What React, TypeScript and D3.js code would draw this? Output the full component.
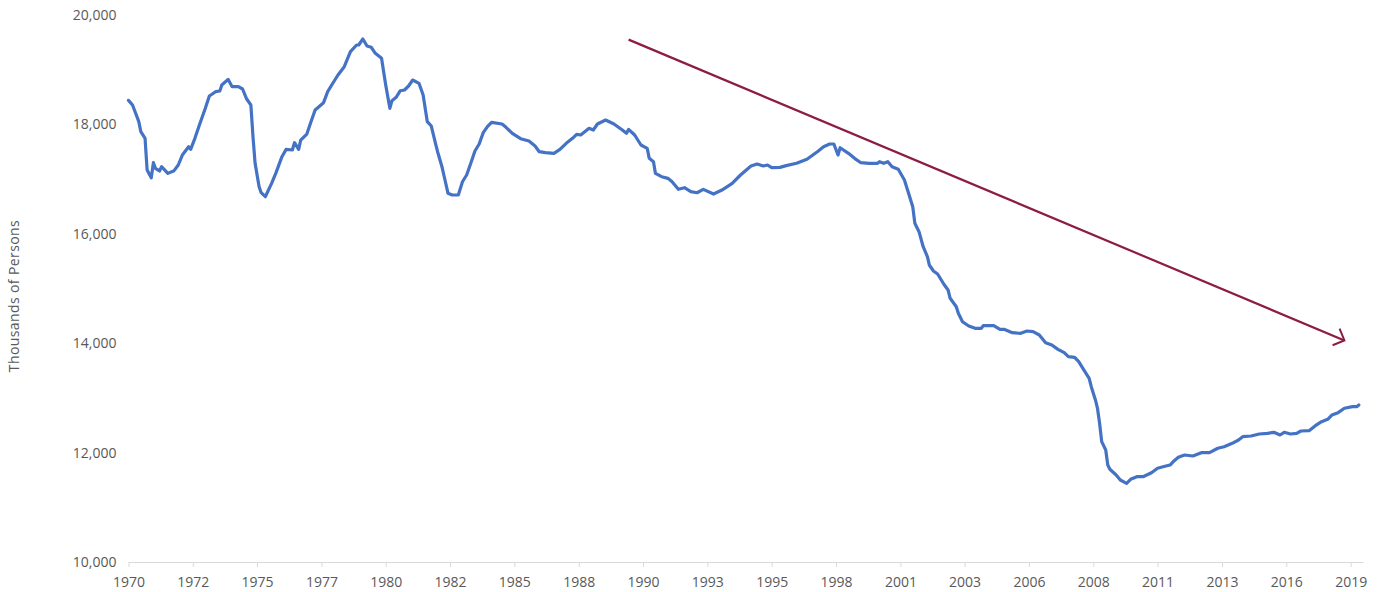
import React, { Component } from 'react';
import * as d3 from 'd3';

// manufacturing employment, thousands of persons
const months = [
  '1970-01', '1970-03', '1970-06', '1970-07', '1970-09', '1970-10', '1970-12', '1971-01', '1971-02', '1971-04',
  '1971-05', '1971-08', '1971-11', '1972-01', '1972-03', '1972-06', '1972-07', '1972-09', '1972-11', '1973-02',
  '1973-04', '1973-07', '1973-09', '1973-10', '1974-01', '1974-03', '1974-06', '1974-08', '1974-10', '1974-12',
  '1975-01', '1975-02', '1975-04', '1975-05', '1975-07', '1975-10', '1975-12', '1976-03', '1976-05', '1976-08',
  '1976-09', '1976-11', '1976-12', '1977-03', '1977-05', '1977-07', '1977-11', '1978-01', '1978-03', '1978-06',
  '1978-09', '1978-12', '1979-03', '1979-04', '1979-06', '1979-08', '1979-10', '1979-12', '1980-03', '1980-05',
  '1980-07', '1980-08', '1980-10', '1980-12', '1981-02', '1981-04', '1981-06', '1981-09', '1981-11', '1982-01',
  '1982-03', '1982-05', '1982-06', '1982-08', '1982-09', '1982-11', '1983-01', '1983-04', '1983-06', '1983-08',
  '1983-10', '1983-12', '1984-02', '1984-04', '1984-06', '1984-08', '1985-01', '1985-03', '1985-06', '1985-10',
  '1986-02', '1986-05', '1986-07', '1986-10', '1987-02', '1987-05', '1987-08', '1987-11', '1988-01', '1988-03',
  '1988-07', '1988-09', '1988-11', '1989-03', '1989-07', '1989-11', '1990-01', '1990-02', '1990-05', '1990-08',
  '1990-11', '1990-12', '1991-02', '1991-03', '1991-06', '1991-09', '1991-11', '1992-02', '1992-05', '1992-08',
  '1992-11', '1993-02', '1993-07', '1993-11', '1994-04', '1994-08', '1995-01', '1995-04', '1995-07', '1995-09',
  '1995-11', '1996-03', '1996-06', '1996-11', '1997-04', '1997-09', '1997-12', '1998-03', '1998-05', '1998-07',
  '1998-08', '1998-12', '1999-03', '1999-06', '1999-10', '2000-02', '2000-03', '2000-05', '2000-07', '2000-09',
  '2000-12', '2001-03', '2001-05', '2001-07', '2001-08', '2001-10', '2001-12', '2002-02', '2002-03', '2002-05',
  '2002-07', '2002-10', '2002-12', '2003-01', '2003-04', '2003-05', '2003-07', '2003-10', '2004-01', '2004-04',
  '2004-05', '2004-10', '2005-01', '2005-03', '2005-07', '2005-11', '2006-02', '2006-05', '2006-08', '2006-11',
  '2007-02', '2007-05', '2007-08', '2007-10', '2008-01', '2008-03', '2008-05', '2008-08', '2008-09', '2008-11',
  '2008-12', '2009-01', '2009-02', '2009-04', '2009-05', '2009-06', '2009-09', '2009-11', '2010-02', '2010-04',
  '2010-07', '2010-10', '2011-02', '2011-05', '2011-09', '2011-11', '2012-01', '2012-03', '2012-06', '2012-10',
  '2013-02', '2013-06', '2013-10', '2014-01', '2014-05', '2014-08', '2014-10', '2015-02', '2015-06', '2015-10',
  '2016-01', '2016-04', '2016-06', '2016-09', '2016-12', '2017-02', '2017-06', '2017-09', '2017-12', '2018-03',
  '2018-05', '2018-08', '2018-11', '2019-03', '2019-05', '2019-06'
]

const employment = [
  18440, 18355, 18050, 17866, 17745, 17166, 17025, 17300, 17197, 17148,
  17227, 17105, 17154, 17258, 17440, 17592, 17544, 17745, 17970, 18294,
  18519, 18598, 18610, 18720, 18824, 18690, 18690, 18647, 18464, 18355,
  17775, 17289, 16861, 16751, 16678, 16923, 17105, 17410, 17544, 17532,
  17666, 17544, 17714, 17824, 18050, 18264, 18397, 18598, 18720, 18903,
  19055, 19330, 19452, 19452, 19561, 19433, 19410, 19300, 19208, 18720,
  18294, 18434, 18495, 18616, 18629, 18702, 18811, 18751, 18537, 18050,
  17970, 17654, 17501, 17240, 17075, 16740, 16709, 16709, 16952, 17075,
  17289, 17514, 17642, 17849, 17958, 18038, 18007, 17946, 17836, 17739,
  17696, 17605, 17501, 17483, 17471, 17544, 17654, 17745, 17818, 17806,
  17928, 17897, 18007, 18080, 18007, 17897, 17836, 17909, 17806, 17623,
  17562, 17380, 17318, 17105, 17044, 17014, 16952, 16813, 16843, 16770,
  16751, 16813, 16727, 16800, 16923, 17075, 17240, 17276, 17240, 17258,
  17209, 17215, 17246, 17289, 17362, 17501, 17592, 17642, 17642, 17440,
  17574, 17471, 17380, 17300, 17289, 17289, 17318, 17289, 17318, 17227,
  17179, 16984, 16740, 16496, 16192, 16039, 15764, 15582, 15430, 15320,
  15265, 15077, 14973, 14821, 14667, 14546, 14393, 14314, 14272, 14272,
  14320, 14320, 14254, 14254, 14192, 14180, 14223, 14211, 14150, 14010,
  13967, 13888, 13827, 13754, 13742, 13662, 13541, 13358, 13205, 12962,
  12810, 12536, 12200, 12048, 11773, 11695, 11590, 11499, 11438, 11511,
  11559, 11559, 11632, 11713, 11755, 11773, 11852, 11914, 11956, 11938,
  11998, 11998, 12079, 12108, 12170, 12230, 12291, 12303, 12340, 12352,
  12371, 12322, 12371, 12340, 12352, 12395, 12400, 12492, 12565, 12608,
  12687, 12730, 12810, 12840, 12840, 12870
]

// excel put a label every 31 months, starting Jan 1970
const xTickLabels = ['1970', '1972', '1975', '1977', '1980', '1982', '1985', '1988', '1990', '1993',
  '1995', '1998', '2001', '2003', '2006', '2008', '2011', '2013', '2016', '2019']

const yTicks = [10000, 12000, 14000, 16000, 18000, 20000]

// hand drawn trend arrow: start and end (month, value)
const arrowMonths = ['1990-02', '2018-11']
const arrowValues = [19550, 14050]

const parseMonth = d3.timeParse('%Y-%m')

class App extends Component {
  svgRef = React.createRef()

  componentDidMount() {
    this.renderChart()
  }

  renderChart = () => {
    const svg = d3.select(this.svgRef.current)
    svg.selectAll('*').remove()

    const font = "'Open Sans', sans-serif"
    const textColor = '#595959'

    const data = months.map((m, i) => ({ date: parseMonth(m), value: employment[i] }))

    const xScale = d3.scaleTime()
      .domain([parseMonth('1970-01'), parseMonth('2019-08')])
      .range([128.5, 1363])

    const yScale = d3.scaleLinear()
      .domain([10000, 20000])
      .range([562, 15])

    const tickDates = xTickLabels.map((_, i) => d3.timeMonth.offset(parseMonth('1970-01'), i * 31))

    // x axis
    const xAxis = svg.append('g')
      .attr('transform', `translate(0, ${yScale(10000)})`)
      .call(d3.axisBottom(xScale)
        .tickValues(tickDates)
        .tickFormat((d, i) => xTickLabels[i])
        .tickSize(5)
        .tickSizeOuter(0)
        .tickPadding(10))
    xAxis.select('.domain').attr('stroke', '#d9d9d9')
    xAxis.selectAll('.tick line').attr('stroke', '#d9d9d9')
    xAxis.selectAll('text')
      .attr('fill', textColor)
      .style('font-family', font)
      .style('font-size', '14px')

    // y axis, labels only
    const yAxis = svg.append('g')
      .attr('transform', `translate(${xScale.range()[0]}, 0)`)
      .call(d3.axisLeft(yScale)
        .tickValues(yTicks)
        .tickFormat(d3.format(','))
        .tickSize(0)
        .tickPadding(12))
    yAxis.select('.domain').remove()
    yAxis.selectAll('text')
      .attr('fill', textColor)
      .style('font-family', font)
      .style('font-size', '14px')

    svg.append('text')
      .attr('transform', 'rotate(-90)')
      .attr('x', -296)
      .attr('y', 19)
      .attr('text-anchor', 'middle')
      .attr('fill', textColor)
      .style('font-family', font)
      .style('font-size', '14px')
      .style('letter-spacing', '0.4px')
      .text('Thousands of Persons')

    // the series
    const line = d3.line()
      .x(d => xScale(d.date))
      .y(d => yScale(d.value))

    svg.append('path')
      .datum(data)
      .attr('d', line)
      .attr('fill', 'none')
      .attr('stroke', '#4472c4')
      .attr('stroke-width', 3.2)
      .attr('stroke-linejoin', 'round')
      .attr('stroke-linecap', 'round')

    // trend arrow
    const arrowColor = '#8c1d40'
    svg.append('defs').append('marker')
      .attr('id', 'arrowhead')
      .attr('viewBox', '-11 -11 13 22')
      .attr('refX', 0)
      .attr('refY', 0)
      .attr('markerWidth', 13)
      .attr('markerHeight', 22)
      .attr('markerUnits', 'userSpaceOnUse')
      .attr('orient', 'auto')
      .append('path')
      .attr('d', 'M-9,-9 L0,0 L-9,9')
      .attr('fill', 'none')
      .attr('stroke', arrowColor)
      .attr('stroke-width', 2)

    const ax = arrowMonths.map(m => xScale(parseMonth(m)))
    const ay = arrowValues.map(v => yScale(v))
    svg.append('line')
      .attr('x1', ax[0]).attr('y1', ay[0])
      .attr('x2', ax[1]).attr('y2', ay[1])
      .attr('stroke', arrowColor)
      .attr('stroke-width', 2.2)
      .attr('marker-end', 'url(#arrowhead)')
  }

  render() {
    return (
      <div className="App">
        <svg ref={this.svgRef} width={1384} height={592}
          style={{ position: 'absolute', left: 0, top: 0, background: '#fff' }}></svg>
      </div>
    )
  }
}

export default App;
